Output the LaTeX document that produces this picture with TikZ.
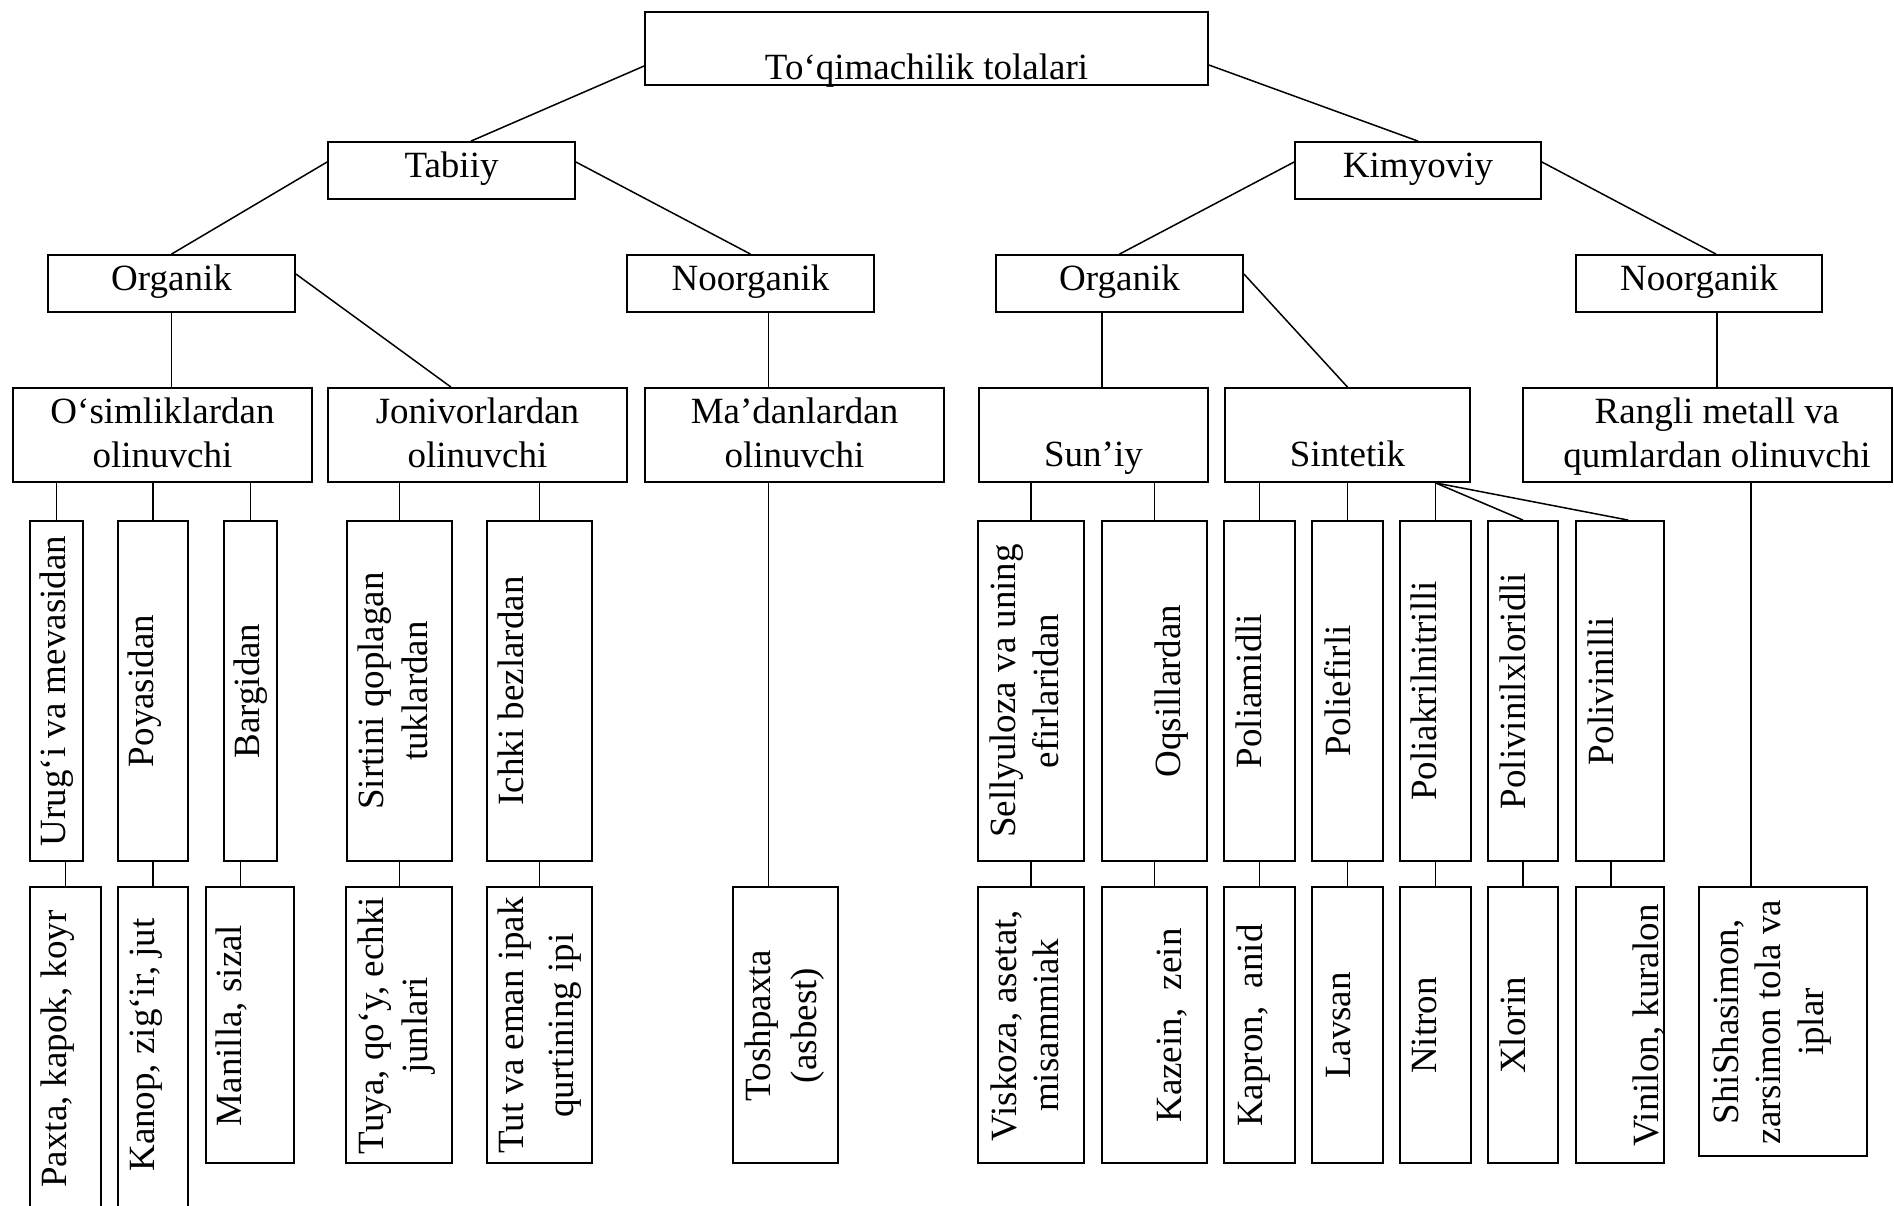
\documentclass[tikz,border=0pt]{standalone}
\usepackage{fontspec}
\setmainfont{Liberation Serif}
\usetikzlibrary{fit,calc}
\newcommand{\mlin}[1]{\begin{tabular}[t]{@{}c@{}}#1\end{tabular}}
\tikzset{
  box/.style={draw, rectangle, line width=0.9pt, inner sep=0pt},
  txt/.style={inner sep=0pt, anchor=base, font=\fontsize{18.5}{22}\selectfont},
  vtxt/.style={txt, rotate=90},
  link/.style={line width=0.75pt},
}
\begin{document}
\begin{tikzpicture}[x=0.5pt,y=-0.5pt]
\useasboundingbox (0,0) rectangle (1894,1205);
\fill[white] (0,0) rectangle (1894,1205);
\clip (0,0) rectangle (1894,1205);
% ---------- horizontal boxes ----------
\node[box, fit={(645,12) (1208,85)}] (top) {};
\node[box, fit={(328,142) (575,199)}] (tabiiy) {};
\node[box, fit={(1295,142) (1541,199)}] (kim) {};
\node[box, fit={(48,255) (295,312)}] (org1) {};
\node[box, fit={(627,255) (874,312)}] (noorg1) {};
\node[box, fit={(996,255) (1243,312)}] (org2) {};
\node[box, fit={(1576,255) (1822,312)}] (noorg2) {};
\node[box, fit={(13,388) (312,482)}] (osim) {};
\node[box, fit={(328,388) (627,482)}] (joni) {};
\node[box, fit={(645,388) (944,482)}] (madan) {};
\node[box, fit={(979,388) (1208,482)}] (suniy) {};
\node[box, fit={(1225,388) (1470,482)}] (sint) {};
\node[box, fit={(1523,388) (1892,482)}] (rangli) {};
% ---------- row 4 boxes ----------
\node[box, fit={(30,521) (83,861)}] (urug) {};
\node[box, fit={(118,521) (188,861)}] (poya) {};
\node[box, fit={(224,521) (277,861)}] (barg) {};
\node[box, fit={(347,521) (452,861)}] (sirtini) {};
\node[box, fit={(487,521) (592,861)}] (ichki) {};
\node[box, fit={(978,521) (1084,861)}] (sellyu) {};
\node[box, fit={(1102,521) (1207,861)}] (oqsil) {};
\node[box, fit={(1224,521) (1295,861)}] (poliam) {};
\node[box, fit={(1312,521) (1383,861)}] (polief) {};
\node[box, fit={(1400,521) (1471,861)}] (poliak) {};
\node[box, fit={(1488,521) (1558,861)}] (polivx) {};
\node[box, fit={(1576,521) (1664,861)}] (polivi) {};
% ---------- row 5 boxes ----------
\node[box, fit={(30,887) (101,1215)}] (paxta) {};
\node[box, fit={(118,887) (188,1215)}] (kanop) {};
\node[box, fit={(206,887) (294,1163)}] (manilla) {};
\node[box, fit={(346,887) (452,1163)}] (tuya) {};
\node[box, fit={(487,887) (592,1163)}] (tut) {};
\node[box, fit={(733,887) (838,1163)}] (tosh) {};
\node[box, fit={(978,887) (1084,1163)}] (viskoza) {};
\node[box, fit={(1102,887) (1207,1163)}] (kazein) {};
\node[box, fit={(1224,887) (1295,1163)}] (kapron) {};
\node[box, fit={(1312,887) (1383,1163)}] (lavsan) {};
\node[box, fit={(1400,887) (1471,1163)}] (nitron) {};
\node[box, fit={(1488,887) (1558,1163)}] (xlorin) {};
\node[box, fit={(1576,887) (1664,1163)}] (vinilon) {};
\node[box, fit={(1699,887) (1867,1156)}] (shisha) {};
% ---------- horizontal texts ----------
\node[txt] (t-top) at (926.5,79.5) {To‘qimachilik tolalari};
\node[txt] (t-tabiiy) at (451.5,177) {Tabiiy};
\node[txt] (t-kim) at (1418,177) {Kimyoviy};
\node[txt] (t-org1) at (171.5,290) {Organik};
\node[txt] (t-noorg1) at (750.5,290) {Noorganik};
\node[txt] (t-org2) at (1119.5,290) {Organik};
\node[txt] (t-noorg2) at (1699,290) {Noorganik};
\node[txt] (t-osim) at (162.5,423) {\mlin{O‘simliklardan\\olinuvchi}};
\node[txt] (t-joni) at (477.5,423) {\mlin{Jonivorlardan\\olinuvchi}};
\node[txt] (t-madan) at (794.5,423) {\mlin{Ma’danlardan\\olinuvchi}};
\node[txt] (t-suniy) at (1093.5,466) {Sun’iy};
\node[txt] (t-sint) at (1347.5,466) {Sintetik};
\node[txt] (t-rangli) at (1717,423) {\mlin{Rangli metall va\\qumlardan olinuvchi}};
% ---------- vertical texts, row 4 ----------
\node[vtxt] (t-urug) at (65,691) {Urug‘i va mevasidan};
\node[vtxt] (t-poya) at (153.5,691) {Poyasidan};
\node[vtxt] (t-barg) at (259.5,691) {Bargidan};
\node[vtxt] (t-sirtini) at (383.5,691) {\mlin{Sirtini qoplagan\\tuklardan}};
\node[vtxt] (t-ichki) at (523.3,691) {Ichki bezlardan};
\node[vtxt] (t-sellyu) at (1015,691) {\mlin{Sellyuloza va uning\\[-0.5pt]efirlaridan}};
\node[vtxt] (t-oqsil) at (1180.5,691) {Oqsillardan};
\node[vtxt] (t-poliam) at (1261.5,691) {Poliamidli};
\node[vtxt] (t-polief) at (1350,691) {Poliefirli};
\node[vtxt] (t-poliak) at (1436.7,691) {Poliakrilnitrilli};
\node[vtxt] (t-polivx) at (1525,691) {Polivinilxloridli};
\node[vtxt] (t-polivi) at (1613.3,691) {Polivinilli};
% ---------- vertical texts, row 5 ----------
\node[vtxt] (t-paxta) at (66,1049) {Paxta, kapok, koyr};
\node[vtxt] (t-kanop) at (154,1045) {Kanop, zig‘ir, jut};
\node[vtxt] (t-manilla) at (241.7,1025.5) {Manilla, sizal};
\node[vtxt] (t-tuya) at (383.3,1025.5) {\mlin{Tuya, qo‘y, echki\\junlari}};
\node[vtxt] (t-tut) at (523.3,1025.5) {\mlin{Tut va eman ipak\\[3pt]qurtining ipi}};
\node[vtxt] (t-tosh) at (770,1025.5) {\mlin{Toshpaxta\\[1.4pt](asbest)}};
\node[vtxt] (t-viskoza) at (1016.7,1025.5) {\mlin{Viskoza, asetat,\\[-1pt]misammiak}};
\node[vtxt] (t-kazein) at (1181.7,1025.5) {Kazein,\ \ zein};
\node[vtxt] (t-kapron) at (1262,1025.5) {Kapron,\ \ anid};
\node[vtxt] (t-lavsan) at (1350,1025.5) {Lavsan};
\node[vtxt] (t-nitron) at (1436.7,1025.5) {Nitron};
\node[vtxt] (t-xlorin) at (1525,1025.5) {Xlorin};
\node[vtxt] (t-vinilon) at (1658,1025.5) {Vinilon, kuralon};
\node[vtxt] (t-shisha) at (1738,1022) {\mlin{ShiShasimon,\\[-0.75pt]zarsimon tola va\\[-0.75pt]iplar}};
% ---------- helper coordinates ----------
\coordinate (k1) at ($(noorg1.south)+(18,0)$);
\coordinate (k2) at ($(tosh.north)+(-17,0)$);
\coordinate (k3) at ($(org2.south)+(-17.5,0)$);
\coordinate (k4) at ($(noorg2.south)+(18,0)$);
\coordinate (k5) at ($(shisha.north)+(-32,0)$);
\coordinate (k6) at ($(polivi.north)+(8.3,0)$);
\coordinate (k7) at ($(manilla.north)+(-9.3,0)$);
\coordinate (k8) at ($(vinilon.north)+(-9,0)$);
\coordinate (k9) at ($(joni.north)+(-26.5,0)$);
\coordinate (k10) at ($(tabiiy.north)+(19.5,0)$);
\coordinate (k11) at ($(noorg2.north)+(17,0)$);
% ---------- connectors ----------
\draw[link] ([yshift=-8.75pt]top.west) -- (k10);
\draw[link] ([yshift=-8.25pt]top.east) -- (kim.north);
\draw[link] ([yshift=4.25pt]tabiiy.west) -- (org1.north);
\draw[link] ([yshift=4.25pt]tabiiy.east) -- (noorg1.north);
\draw[link] ([yshift=4.25pt]kim.west) -- (org2.north);
\draw[link] ([yshift=4.25pt]kim.east) -- (k11);
\draw[link] (org1.south) -- (org1.south |- osim.north);
\draw[link] ([yshift=4.75pt]org1.east) -- (k9);
\draw[link] (k1) -- (k1 |- madan.north);
\draw[link] (k3) -- (k3 |- suniy.north);
\draw[link] ([yshift=4.75pt]org2.east) -- (sint.north);
\draw[link] (k4) -- (k4 |- rangli.north);
% row 3 -> row 4
\draw[link] (urug.north |- osim.south) -- (urug.north);
\draw[link] (poya.north |- osim.south) -- (poya.north);
\draw[link] (barg.north |- osim.south) -- (barg.north);
\draw[link] (sirtini.north |- joni.south) -- (sirtini.north);
\draw[link] (ichki.north |- joni.south) -- (ichki.north);
\draw[link] (k2 |- madan.south) -- (k2);
\draw[link] (sellyu.north |- suniy.south) -- (sellyu.north);
\draw[link] (oqsil.north |- suniy.south) -- (oqsil.north);
\draw[link] (poliam.north |- sint.south) -- (poliam.north);
\draw[link] (polief.north |- sint.south) -- (polief.north);
\draw[link] (poliak.north |- sint.south) -- (poliak.north);
\draw[link] (poliak.north |- sint.south) -- (polivx.north);
\draw[link] (poliak.north |- sint.south) -- (k6);
\draw[link] (k5 |- rangli.south) -- (k5);
% row 4 -> row 5
\draw[link] (urug.south -| paxta.north) -- (paxta.north);
\draw[link] (poya.south) -- (kanop.north);
\draw[link] (k7 |- barg.south) -- (k7);
\draw[link] (sirtini.south) -- (sirtini.south |- tuya.north);
\draw[link] (ichki.south) -- (ichki.south |- tut.north);
\draw[link] (sellyu.south) -- (viskoza.north);
\draw[link] (oqsil.south) -- (kazein.north);
\draw[link] (poliam.south) -- (kapron.north);
\draw[link] (polief.south) -- (lavsan.north);
\draw[link] (poliak.south) -- (nitron.north);
\draw[link] (polivx.south) -- (xlorin.north);
\draw[link] (k8 |- polivi.south) -- (k8);
\end{tikzpicture}
\end{document}
